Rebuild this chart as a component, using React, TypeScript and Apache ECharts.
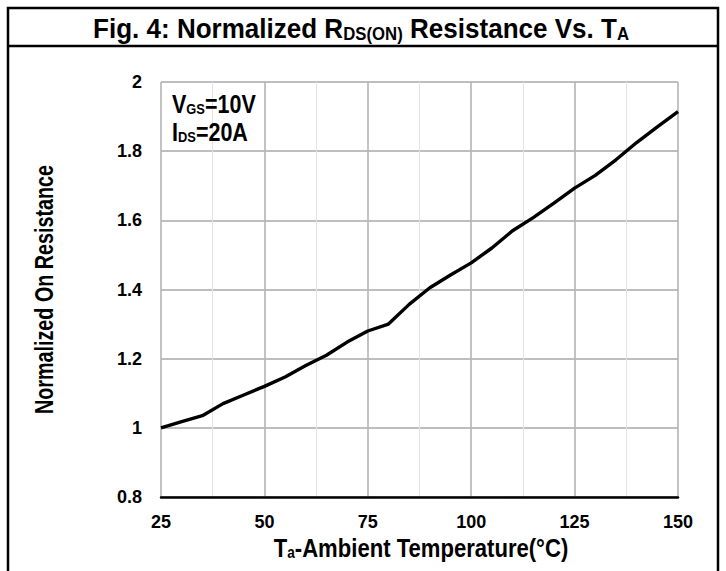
import React, { useEffect, useRef } from 'react';
import * as echarts from 'echarts';

const temperatures = [25, 30, 35, 40, 45, 50, 55, 60, 65, 70, 75, 80, 85, 90, 95, 100, 105, 110, 115, 120, 125, 130, 135, 140, 145, 150];
const normalizedResistance = [1.0, 1.018, 1.035, 1.07, 1.095, 1.12, 1.147, 1.18, 1.21, 1.248, 1.28, 1.3, 1.357, 1.405, 1.442, 1.477, 1.52, 1.57, 1.608, 1.65, 1.693, 1.73, 1.775, 1.825, 1.87, 1.914];

const titleMain1 = 'Fig. 4: Normalized R';
const titleSub1 = 'DS(ON)';
const titleMain2 = ' Resistance Vs. T';
const titleSub2 = 'A';
const xAxisTitle = ['T', 'a', '-Ambient Temperature(°C)'];
const yAxisTitle = 'Normalized On Resistance';
const conditionLines = [['V', 'GS', '=10V'], ['I', 'DS', '=20A']];

const FONT = "'Liberation Sans', Arial, sans-serif";

export default function App() {
  const ref = useRef<HTMLDivElement>(null);
  useEffect(() => {
    if (!ref.current) return;
    const chart = echarts.init(ref.current, undefined, { renderer: 'svg' });
    const data = temperatures.map((t, i) => [t, normalizedResistance[i]]);
    chart.setOption({
      animation: false,
      backgroundColor: '#ffffff',
      grid: { left: 161, right: 48, top: 82, bottom: 74 },
      xAxis: {
        type: 'value',
        min: 25,
        max: 150,
        interval: 25,
        axisLine: { show: true, onZero: false, lineStyle: { color: '#000', width: 2.5 } },
        axisTick: { show: false },
        axisLabel: { color: '#000', fontFamily: FONT, fontWeight: 'bold', fontSize: 18, margin: 16 },
        splitLine: { show: true, lineStyle: { color: '#b4b4b4', width: 1.6 } },
        minorTick: { show: false, splitNumber: 2 },
        minorSplitLine: { show: true, lineStyle: { color: '#e4e4e4', width: 1 } },
      },
      yAxis: {
        type: 'value',
        min: 0.8,
        max: 2,
        interval: 0.2,
        axisLine: { show: false },
        axisTick: { show: false },
        axisLabel: { color: '#000', fontFamily: FONT, fontWeight: 'bold', fontSize: 18, margin: 19 },
        splitLine: { show: true, lineStyle: { color: '#a8a8a8', width: 1.6 } },
      },
      series: [
        {
          type: 'line',
          data,
          showSymbol: false,
          smooth: false,
          lineStyle: { color: '#000', width: 3.4 },
          z: 5,
        },
      ],
      graphic: [
        {
          type: 'rect',
          shape: { x: 8, y: 8, width: 710, height: 620 },
          style: { fill: 'none', stroke: '#000', lineWidth: 2.5 },
          silent: true,
        },
        {
          type: 'line',
          shape: { x1: 8, y1: 46, x2: 718, y2: 46 },
          style: { stroke: '#000', lineWidth: 2.5 },
          silent: true,
        },
        {
          type: 'text',
          x: 361,
          y: 11,
          scaleX: 0.93,
          style: {
            text: `{m|${titleMain1}}{s|${titleSub1}}{m|${titleMain2}}{s|${titleSub2}}`,
            align: 'center',
            verticalAlign: 'top',
            rich: {
              m: { fontFamily: FONT, fontWeight: 'bold', fontSize: 28, fill: '#000', lineHeight: 32, verticalAlign: 'bottom' },
              s: { fontFamily: FONT, fontWeight: 'bold', fontSize: 18, fill: '#000', lineHeight: 19, verticalAlign: 'bottom' },
            },
          },
          silent: true,
        },
        {
          type: 'text',
          x: 172,
          y: 88.5,
          scaleX: 0.86,
          style: {
            text: conditionLines.map((l) => `{m|${l[0]}}{s|${l[1]}}{m|${l[2]}}`).join('\n'),
            align: 'left',
            verticalAlign: 'top',
            rich: {
              m: { fontFamily: FONT, fontWeight: 'bold', fontSize: 25, fill: '#000', lineHeight: 28, verticalAlign: 'bottom' },
              s: { fontFamily: FONT, fontWeight: 'bold', fontSize: 15, fill: '#000', lineHeight: 7, verticalAlign: 'bottom' },
            },
          },
          z: 10,
          silent: true,
        },
        {
          type: 'text',
          x: 421,
          y: 531,
          scaleX: 0.85,
          style: {
            text: `{m|${xAxisTitle[0]}}{s|${xAxisTitle[1]}}{m|${xAxisTitle[2]}}`,
            align: 'center',
            verticalAlign: 'top',
            rich: {
              m: { fontFamily: FONT, fontWeight: 'bold', fontSize: 26, fill: '#000', lineHeight: 30, verticalAlign: 'bottom' },
              s: { fontFamily: FONT, fontWeight: 'bold', fontSize: 16, fill: '#000', lineHeight: 12, verticalAlign: 'bottom' },
            },
          },
          silent: true,
        },
        {
          type: 'text',
          x: 45,
          y: 289.5,
          rotation: Math.PI / 2,
          scaleX: 0.79,
          style: {
            text: yAxisTitle,
            align: 'center',
            verticalAlign: 'middle',
            fontFamily: FONT,
            fontWeight: 'bold',
            fontSize: 25,
            fill: '#000',
          },
          silent: true,
        },
      ],
    });
    return () => chart.dispose();
  }, []);
  return <div ref={ref} style={{ position: 'absolute', left: 0, top: 0, width: 726, height: 571 }} />;
}
